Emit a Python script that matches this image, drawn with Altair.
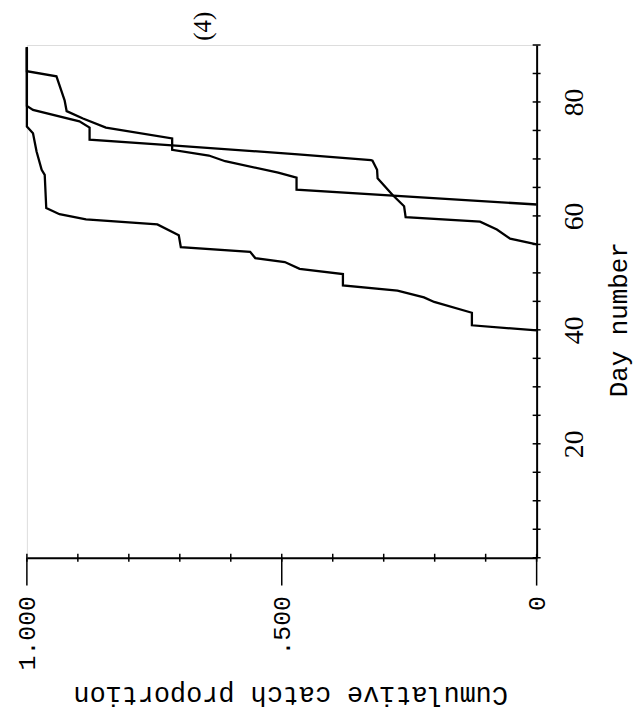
import altair as alt
import pandas as pd

# Curve A (earliest run)
a_day = [39.9, 40.8, 43.0, 44.9, 45.7, 46.9, 47.8, 49.8, 50.7, 51.9, 52.6, 53.7, 54.5, 56.6, 58.5, 59.4, 60.3, 61.4, 67.2, 68.1, 71.3, 74.5, 75.7, 89.6]
a_p = [0.0, 0.127, 0.127, 0.201, 0.221, 0.273, 0.380, 0.380, 0.465, 0.494, 0.552, 0.562, 0.698, 0.702, 0.744, 0.884, 0.936, 0.962, 0.965, 0.971, 0.981, 0.988, 1.0, 1.0]

# Curve B
b_day = [55.0, 56.0, 57.6, 59.0, 59.8, 61.7, 63.7, 66.6, 68.1, 69.7, 69.8, 70.8, 72.4, 73.4, 75.5, 76.6, 78.6, 79.3, 89.6]
b_p = [0.0, 0.052, 0.078, 0.111, 0.257, 0.260, 0.283, 0.312, 0.313, 0.322, 0.325, 0.468, 0.715, 0.877, 0.877, 0.897, 0.988, 1.0, 1.0]

# Curve C (latest run)
c_day = [62.0, 64.6, 66.7, 67.6, 69.6, 70.6, 71.6, 73.6, 75.5, 77.1, 78.4, 80.3, 84.5, 85.4, 89.6]
c_p = [0.0, 0.471, 0.471, 0.507, 0.611, 0.643, 0.715, 0.715, 0.845, 0.890, 0.922, 0.926, 0.942, 1.0, 1.0]

day_ticks = list(range(0, 91, 5))
day_labels = [20, 40, 60, 80]
prop_ticks = [i / 10 for i in range(11)]
prop_major = [0.0, 0.5, 1.0]
panel_label = "(4)"
panel_pos = {"p": 0.655, "day": 93.3}

rows = []
for name, ds, ps in (("A", a_day, a_p), ("B", b_day, b_p), ("C", c_day, c_p)):
    for i, (d, p) in enumerate(zip(ds, ps)):
        rows.append({"series": name, "i": i, "day": d, "p": p})
df = pd.DataFrame(rows)

W, H = 513, 516
xscale = alt.Scale(domain=[0, 1], reverse=True, nice=False, zero=False)
yscale = alt.Scale(domain=[0, 90], nice=False, zero=False)

mono = "Liberation Mono"
serif = "Liberation Serif"

xaxis = alt.Axis(
    values=prop_major, grid=False, ticks=False, tickSize=0,
    domain=True, domainColor="black", domainWidth=2,
    labelExpr="datum.value == 1 ? '1.000' : (datum.value == 0.5 ? '.500' : '0')",
    labelAngle=270, labelAlign="right", labelBaseline="middle", labelPadding=38,
    labelFont=mono, labelFontSize=25, labelColor="black",
    title="Cumulative catch proportion", titleAngle=180, titleFont=mono,
    titleFontSize=27, titleFontWeight="normal", titleColor="black",
    titleX=265, titleY=138, titleAlign="center", titleBaseline="middle",
)
yaxis = alt.Axis(
    orient="right", values=day_labels, grid=False, ticks=False, tickSize=0,
    domain=True, domainColor="black", domainWidth=2,
    labelAngle=270, labelAlign="center", labelBaseline="middle", labelPadding=38,
    labelFont=serif, labelFontSize=28, labelColor="black",
    title="Day number", titleAngle=270, titleFont=mono, titleFontSize=26,
    titleFontWeight="normal", titleColor="black",
    titleX=82, titleY=276, titleAlign="center", titleBaseline="middle",
)

lines = alt.Chart(df).mark_line(color="black", strokeWidth=2.3).encode(
    x=alt.X("p:Q", scale=xscale, axis=xaxis),
    y=alt.Y("day:Q", scale=yscale, axis=yaxis),
    detail="series:N",
    order="i:Q",
)

day_tick_df = pd.DataFrame({"day": day_ticks})
day_tick_marks = alt.Chart(day_tick_df).mark_rule(color="black", strokeWidth=1.5).encode(
    y=alt.Y("day:Q", scale=yscale),
    x=alt.value(W - 4), x2=alt.value(W + 4),
)

prop_tick_df = pd.DataFrame({"p": prop_ticks})
prop_tick_marks = alt.Chart(prop_tick_df).mark_rule(color="black", strokeWidth=1.5).encode(
    x=alt.X("p:Q", scale=xscale),
    y=alt.value(H - 4), y2=alt.value(H + 4),
)

major_df = pd.DataFrame({"p": prop_major})
major_marks = alt.Chart(major_df).mark_rule(color="black", strokeWidth=1.5).encode(
    x=alt.X("p:Q", scale=xscale),
    y=alt.value(H), y2=alt.value(H + 28),
)

label_df = pd.DataFrame([{"p": panel_pos["p"], "day": panel_pos["day"], "t": panel_label}])
panel = alt.Chart(label_df).mark_text(
    angle=270, font=serif, fontSize=25, color="black", align="center", baseline="middle"
).encode(
    x=alt.X("p:Q", scale=xscale),
    y=alt.Y("day:Q", scale=yscale),
    text="t:N",
)

chart = alt.layer(lines, day_tick_marks, prop_tick_marks, major_marks, panel).properties(
    width=W, height=H,
    autosize=alt.AutoSizeParams(type="none"),
    padding={"left": 19, "top": 35, "right": 100, "bottom": 150},
).configure_view(stroke=None).configure(background="white")

chart.save("out.html", embed_options={"renderer": "svg", "actions": False})
